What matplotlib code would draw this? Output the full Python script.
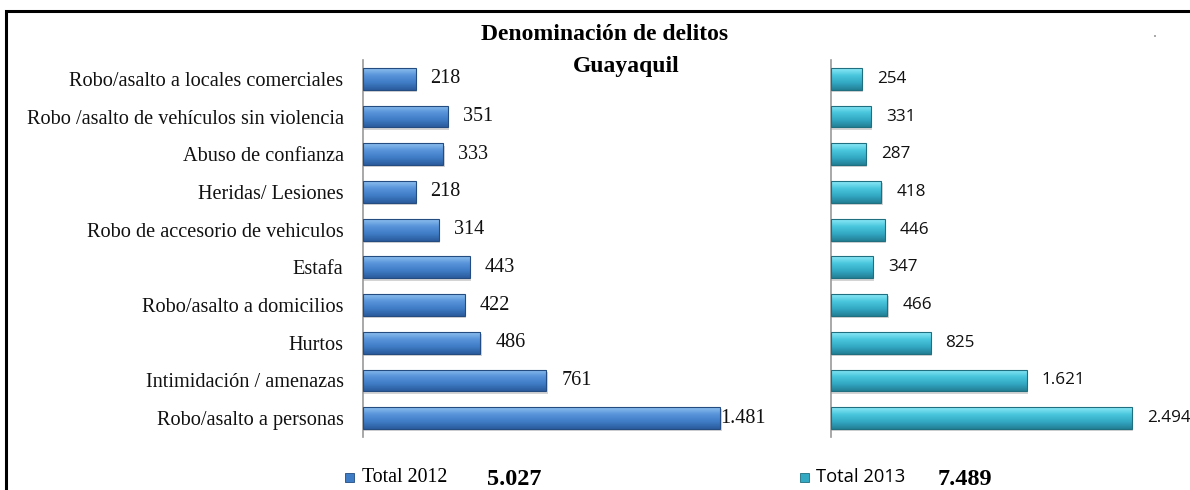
import matplotlib
matplotlib.use("Agg")
import matplotlib.pyplot as plt
import numpy as np
from matplotlib.patches import Rectangle
from matplotlib.colors import LinearSegmentedColormap

categories = [
    "Robo/asalto a locales comerciales",
    "Robo /asalto de vehículos sin violencia",
    "Abuso de confianza",
    "Heridas/ Lesiones",
    "Robo de accesorio de vehiculos",
    "Estafa",
    "Robo/asalto a domicilios",
    "Hurtos",
    "Intimidación / amenazas",
    "Robo/asalto a personas",
]
values_2012 = [218, 351, 333, 218, 314, 443, 422, 486, 761, 1481]
values_2013 = [254, 331, 287, 418, 446, 347, 466, 825, 1621, 2494]
labels_2012 = ["218", "351", "333", "218", "314", "443", "422", "486", "761", "1.481"]
labels_2013 = ["254", "331", "287", "418", "446", "347", "466", "825", "1.621", "2.494"]
series_names = ["Total 2012", "Total 2013"]
totals = ["5.027", "7.489"]
title_lines = ["Denominación de delitos", "Guayaquil"]

W, H = 1190, 490
fig = plt.figure(figsize=(W / 100, H / 100), dpi=100)
fig.patch.set_facecolor("white")

def fx(px):
    return px / W

def fy(py):
    return 1 - py / H

# frame
fig.add_artist(Rectangle((fx(6), fy(540)), 1.2, fy(11) - fy(540), transform=fig.transFigure,
                         fill=False, edgecolor="black", lw=2.2))
fig.add_artist(Rectangle((fx(1154), fy(37)), 1.5 / W, 1.5 / H, transform=fig.transFigure,
                         facecolor="#aaaaaa", edgecolor="none"))

ax_bottom, ax_top = 437, 60
axL = fig.add_axes([fx(363), fy(ax_bottom), fx(766) - fx(363), fy(ax_top) - fy(ax_bottom)])
axR = fig.add_axes([fx(831), fy(ax_bottom), fx(1190) - fx(831), fy(ax_top) - fy(ax_bottom)])

cmapL = LinearSegmentedColormap.from_list("l", ["#2b5b9c", "#3f7cc6", "#5893da", "#8dc0f0"])
cmapR = LinearSegmentedColormap.from_list("r", ["#237f95", "#33a9c4", "#49c6dd", "#8eeaf8"])
grad = np.linspace(0, 1, 64).reshape(-1, 1)

def draw_panel(ax, vals, labs, xmax, cmap, edge, valfont):
    ax.set_xlim(0, xmax)
    ax.set_ylim(len(vals) - 0.5, -0.5)
    ypos = np.arange(len(vals))
    bh = 0.58
    bars = ax.barh(ypos, vals, height=bh, color="none", edgecolor="none", zorder=2)
    for b in bars:
        x0, y0, w, h = b.get_x(), b.get_y(), b.get_width(), b.get_height()
        ax.add_patch(Rectangle((x0, y0 + 0.06), w + xmax * 0.004, h, facecolor="#b8b8b8",
                               edgecolor="none", alpha=0.6, zorder=1))
        im = ax.imshow(grad[::-1], cmap=cmap, aspect="auto", extent=(x0, x0 + w, y0 + h, y0),
                       origin="upper", zorder=2, interpolation="bilinear")
        rect = Rectangle((x0, y0), w, h, facecolor="none", edgecolor=edge, lw=0.8, zorder=3)
        ax.add_patch(rect)
        im.set_clip_path(rect)
    texts = []
    for y, v, s in zip(ypos, vals, labs):
        t = ax.text(v, y, s, ha="left", va="center", zorder=4, **valfont)
        t.set_transform(ax.transData + matplotlib.transforms.ScaledTranslation(15 / 100, 0, fig.dpi_scale_trans))
        texts.append(t)
    for s in ["top", "right", "bottom"]:
        ax.spines[s].set_visible(False)
    ax.spines["left"].set_color("#999999")
    ax.spines["left"].set_linewidth(1.2)
    ax.set_xticks([])
    ax.set_yticks([])
    ax.patch.set_alpha(0)
    return texts

serif = ["Liberation Serif", "DejaVu Serif"]
sans = ["Open Sans", "DejaVu Sans"]

tL = draw_panel(axL, values_2012, labels_2012, (766 - 363) / 0.241, cmapL, "#244c80",
                dict(family=serif, fontsize=14.5, color="#111111"))
tR = draw_panel(axR, values_2013, labels_2013, (1190 - 831) / 0.1207, cmapR, "#1f6f80",
                dict(family=sans, fontsize=12.3, color="#111111"))

axL.set_yticks(np.arange(len(categories)))
axL.set_yticklabels(categories, fontfamily=serif, fontsize=14.6, color="#111111")
axL.tick_params(axis="y", length=0, pad=14)

# clamp value labels inside plot area (like the original)
fig.canvas.draw()
r = fig.canvas.get_renderer()
axbox = axL.get_window_extent(r)
for t in tL:
    bb = t.get_window_extent(r)
    if bb.x1 > axbox.x1 + 1:
        shift = (bb.x1 - axbox.x1) / 100
        t.set_transform(t.get_transform() + matplotlib.transforms.ScaledTranslation(-shift, 0, fig.dpi_scale_trans))

fig.text(fx(605), fy(35), title_lines[0], ha="center", va="center",
         family=serif, fontsize=17, fontweight="bold")
fig.text(fx(626), fy(66), title_lines[1], ha="center", va="center",
         family=serif, fontsize=17, fontweight="bold")

# legend
ly = fy(477)
fig.add_artist(Rectangle((fx(345), ly - 4.5 / H), 9 / W, 9 / H, transform=fig.transFigure,
                         facecolor="#3f7cc6", edgecolor="#244c80", lw=0.6))
fig.text(fx(362), ly, series_names[0], ha="left", va="center", family=serif, fontsize=14.3)
fig.text(fx(487), ly - 2 / H, totals[0], ha="left", va="center", family=serif, fontsize=17.5, fontweight="bold")
fig.add_artist(Rectangle((fx(800), ly - 4.5 / H), 9 / W, 9 / H, transform=fig.transFigure,
                         facecolor="#33a9c4", edgecolor="#1f6f80", lw=0.6))
fig.text(fx(816), ly, series_names[1], ha="left", va="center", family=sans, fontsize=13.2)
fig.text(fx(938), ly - 2 / H, totals[1], ha="left", va="center", family=serif, fontsize=17.5, fontweight="bold")

fig.savefig("out.png", dpi=100, facecolor="white")
